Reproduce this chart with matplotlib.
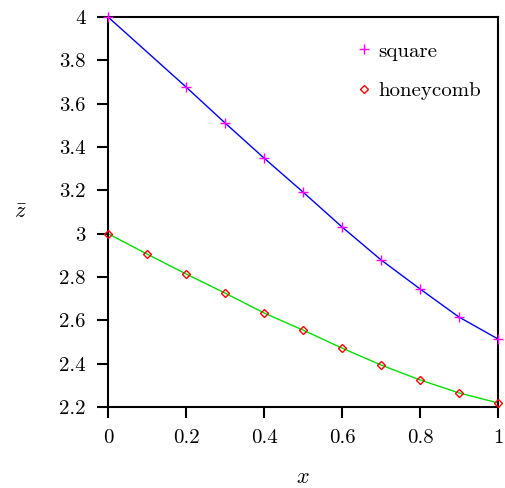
import numpy as np
import matplotlib
matplotlib.use("Agg")
import matplotlib.pyplot as plt
from matplotlib.ticker import FuncFormatter

plt.rcParams['font.family'] = ['cmr10', 'DejaVu Serif']
plt.rcParams['mathtext.fontset'] = 'cm'
plt.rcParams['axes.formatter.use_mathtext'] = True

# ----- data ----- #
x_square = [0.0, 0.2, 0.3, 0.4, 0.5, 0.6, 0.7, 0.8, 0.9, 1.0]
z_square = [4.0, 3.677, 3.511, 3.349, 3.192, 3.031, 2.879, 2.745, 2.615, 2.514]

x_honey = [0.0, 0.1, 0.2, 0.3, 0.4, 0.5, 0.6, 0.7, 0.8, 0.9, 1.0]
z_honey = [3.0, 2.906, 2.814, 2.726, 2.634, 2.555, 2.472, 2.394, 2.325, 2.265, 2.219]

xticks = [0, 0.2, 0.4, 0.6, 0.8, 1]
yticks = [2.2, 2.4, 2.6, 2.8, 3, 3.2, 3.4, 3.6, 3.8, 4]

fig = plt.figure(figsize=(5.05, 4.88), dpi=100)
ax = fig.add_axes([0.2139, 0.166, 0.7722, 0.7992])

ax.plot(x_square, z_square, color="blue", lw=1.0, zorder=2)
ax.plot(x_honey, z_honey, color="#00e000", lw=1.0, zorder=2)
ax.plot(x_square, z_square, ls="none", marker="+", ms=7, mew=1.0,
        color="magenta", label="square", zorder=3, clip_on=False)
ax.plot(x_honey, z_honey, ls="none", marker="D", ms=4, mew=1.0,
        mfc="none", mec="red", label="honeycomb", zorder=3, clip_on=False)

ax.set_xlim(0, 1)
ax.set_ylim(2.2, 4)
ax.set_xticks(xticks)
ax.set_yticks(yticks)
fmt = FuncFormatter(lambda v, p: "%g" % v)
ax.xaxis.set_major_formatter(fmt)
ax.yaxis.set_major_formatter(fmt)
ax.tick_params(direction="out", length=8, width=1.5, labelsize=15, pad=8,
               top=False, right=False)
for s in ax.spines.values():
    s.set_linewidth(1.5)

ax.set_xlabel("$x$", fontsize=16, labelpad=15)
ax.set_ylabel(r"$\bar{z}$", fontsize=16, rotation=0, labelpad=28, va="center")

ax.legend(loc="upper right", bbox_to_anchor=(1.02, 1.0), frameon=False,
          fontsize=15, handletextpad=0.2, labelspacing=1.0, handlelength=1.0,
          borderaxespad=0.8)

plt.savefig("out.png", dpi=100)
plt.close()
